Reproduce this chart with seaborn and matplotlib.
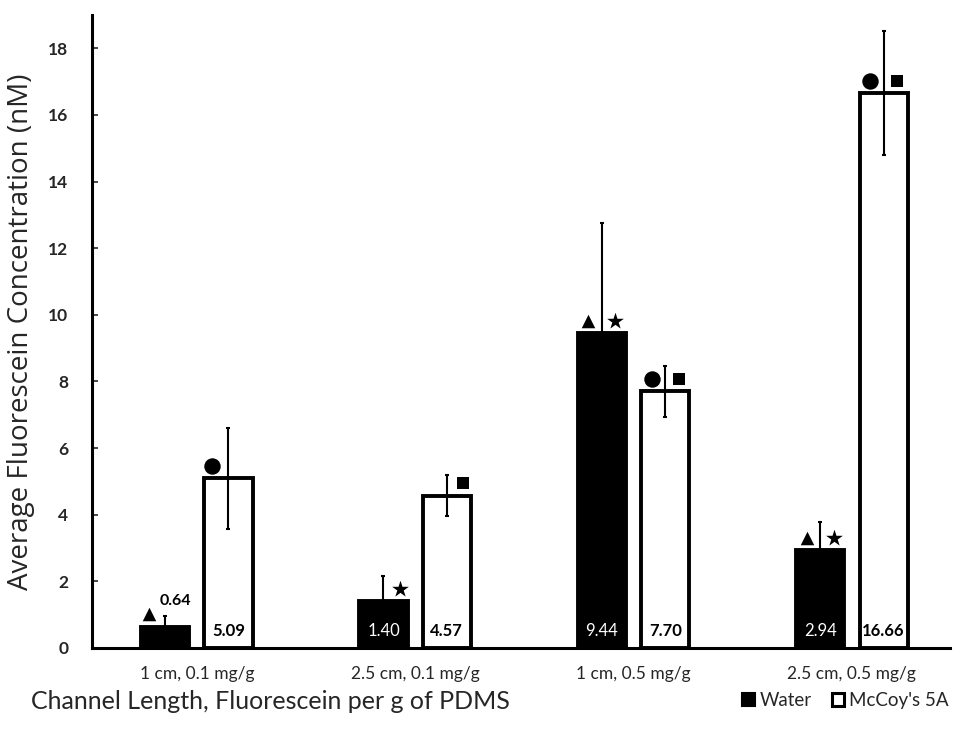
import matplotlib
matplotlib.use("Agg")
import matplotlib.pyplot as plt
import seaborn as sns
import pandas as pd
import numpy as np
from matplotlib.patches import Patch
from matplotlib.container import BarContainer

categories = ["1 cm, 0.1 mg/g", "2.5 cm, 0.1 mg/g", "1 cm, 0.5 mg/g", "2.5 cm, 0.5 mg/g"]
series_names = ["Water", "McCoy's 5A"]
water_vals = [0.64, 1.40, 9.44, 2.94]
mccoy_vals = [5.09, 4.57, 7.70, 16.66]
water_err = [0.32, 0.77, 3.31, 0.83]
mccoy_err = [1.52, 0.62, 0.76, 1.85]
water_labels = ["0.64", "1.40", "9.44", "2.94"]
mccoy_labels = ["5.09", "4.57", "7.70", "16.66"]
water_marks = [["^"], ["*"], ["^", "*"], ["^", "*"]]
mccoy_marks = [["o"], ["s"], ["o", "s"], ["o", "s"]]
y_ticks = [0, 2, 4, 6, 8, 10, 12, 14, 16, 18]

sns.set_theme(style="white")
plt.rcParams["font.family"] = ["Lato", "DejaVu Sans"]

df = pd.DataFrame({
    "cond": categories * 2,
    "val": water_vals + mccoy_vals,
    "medium": [series_names[0]] * 4 + [series_names[1]] * 4,
})

fig = plt.figure(figsize=(9.54, 7.35), dpi=100)
ax = fig.add_axes([0.0964, 0.1184, 0.8996, 0.8612])

sns.barplot(data=df, x="cond", y="val", hue="medium", order=categories,
            hue_order=series_names,
            palette={series_names[0]: "black", series_names[1]: "white"},
            width=0.58, gap=0.24, edgecolor="black", linewidth=2.8,
            errorbar=None, legend=False, ax=ax)

errs = [water_err, mccoy_err]
labels = [water_labels, mccoy_labels]
marks = [water_marks, mccoy_marks]
vals = [water_vals, mccoy_vals]
marker_size = {"^": 95, "*": 160, "o": 140, "s": 85}
marker_side = {"^": -1, "o": -1, "*": 1, "s": 1}
bar_conts = [c for c in ax.containers if isinstance(c, BarContainer)]
for si, cont in enumerate(bar_conts):
    for bi, patch in enumerate(cont.patches):
        xc = patch.get_x() + patch.get_width() / 2
        v = vals[si][bi]
        ax.errorbar(xc, v, yerr=errs[si][bi], fmt="none", ecolor="black",
                    elinewidth=1.5, capsize=1.5, capthick=1.5, zorder=4)
        if si == 0 and v < 1:
            ax.text(xc + 0.045, v + 0.77, labels[si][bi], ha="center", va="center",
                    fontsize=11.5, color="black", fontweight="bold")
        else:
            ax.text(xc, 0.5, labels[si][bi], ha="center", va="center",
                    fontsize=12, color="white" if si == 0 else "black",
                    fontweight="normal" if si == 0 else "bold", zorder=5)
        for m in marks[si][bi]:
            dx = marker_side[m] * 0.062
            if len(marks[si][bi]) == 1:
                dx = marker_side[m] * 0.075
            ax.scatter(xc + dx, v + 0.37, marker=m, s=marker_size[m], color="black",
                       zorder=6, linewidths=0)

ax.set_xlim(-0.48, 3.45)
ax.set_ylim(0, 19)
ax.set_yticks(y_ticks)
ax.set_yticklabels([str(t) for t in y_ticks], fontsize=12.5, fontweight="bold")
ax.tick_params(axis="y", direction="in", length=4, width=1.2, left=True, pad=17)
ax.tick_params(axis="x", length=0, pad=13, labelsize=12.5)
ax.set_xlabel("")
ax.set_ylabel("Average Fluorescein Concentration (nM)", fontsize=20,
              family=["Open Sans", "DejaVu Sans"], labelpad=2)
ax.yaxis.set_label_coords(-0.066, 0.5)
for s in ["top", "right"]:
    ax.spines[s].set_visible(False)
for s in ["left", "bottom"]:
    ax.spines[s].set_color("black")
    ax.spines[s].set_linewidth(2.2)

fig.text(0.283, 0.046, "Channel Length, Fluorescein per g of PDMS", ha="center",
         va="center", fontsize=18)
handles = [Patch(facecolor="black", edgecolor="black", linewidth=1.5),
           Patch(facecolor="white", edgecolor="black", linewidth=2.2)]
fig.legend(handles, series_names, loc="center right", bbox_to_anchor=(1.012, 0.047),
           ncol=2, frameon=False, fontsize=13.5, handlelength=0.65, handleheight=0.65,
           handletextpad=0.25, columnspacing=1.1)

fig.savefig("out.png", dpi=100)
